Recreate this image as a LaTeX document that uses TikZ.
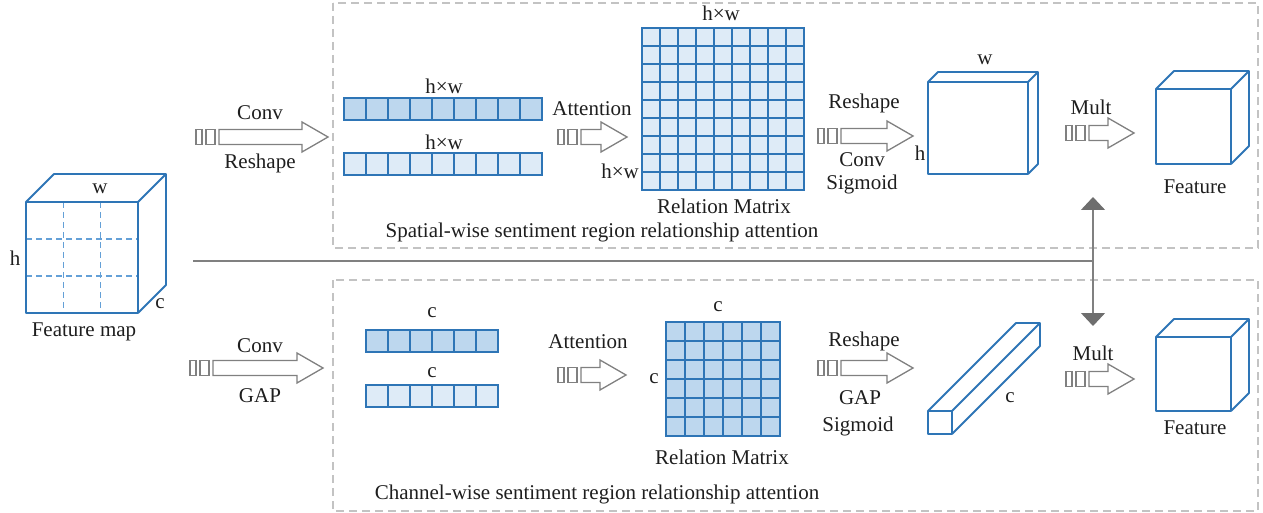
\documentclass[tikz,border=0pt]{standalone}
\usepackage{fontspec}
\setmainfont{Liberation Serif}
\usetikzlibrary{arrows.meta}

\definecolor{cubeblue}{RGB}{46,117,182}
\definecolor{gridblue}{RGB}{100,160,215}
\definecolor{celldark}{RGB}{189,215,238}
\definecolor{celllight}{RGB}{222,235,247}
\definecolor{framegray}{RGB}{195,195,195}
\definecolor{arrowgray}{RGB}{128,128,128}
\definecolor{headgray}{RGB}{110,110,110}
\definecolor{inkgray}{RGB}{30,30,30}

\tikzset{
  lbl/.style={font=\fontsize{21}{24}\selectfont, inner sep=0pt, text=inkgray},
  edgethree/.style={draw=cubeblue, line width=1.8pt, line join=round},
  cellgrid/.style={draw=cubeblue, line width=2pt},
  frame/.style={draw=framegray, line width=1.3pt, dash pattern=on 8pt off 5pt},
  hollow/.style={draw=arrowgray, line width=1.3pt, fill=white, line join=miter},
  bus/.style={draw=arrowgray, line width=1.4pt},
}

% hollow block arrow preceded by two small bars: left x, centre y, tip x
\newcommand\hollowarrow[3]{%
  \draw[hollow] (#1,#2-7.5) rectangle ++(6,15);
  \draw[hollow] (#1+10,#2-7.5) rectangle ++(9,15);
  \draw[hollow] (#1+23,#2-7.5) -- (#3-26,#2-7.5) -- (#3-26,#2-15) -- (#3,#2)
     -- (#3-26,#2+15) -- (#3-26,#2+7.5) -- (#1+23,#2+7.5) -- cycle;
}
% box in oblique view: front left x, top y, right x, bottom y, depth
\newcommand\obliquebox[5]{%
  \draw[edgethree] (#1,#2) rectangle (#3,#4);
  \draw[edgethree] (#1,#2) -- (#1+#5,#2-#5) -- (#3+#5,#2-#5) -- (#3+#5,#4-#5) -- (#3,#4);
  \draw[edgethree] (#3,#2) -- (#3+#5,#2-#5);
}
% row of cells: x0, y0, cell width, height, number of cells, fill
\newcommand\cellrow[6]{%
  \draw[cellgrid, fill=#6] (#1,#2) rectangle ++(#3*#5,#4);
  \foreach \k in {1,...,\numexpr#5-1\relax}
    \draw[cellgrid] ({#1+\k*#3},#2) -- ++(0,#4);
}
% square matrix of cells: x0, y0, cell size, number of cells, fill
\newcommand\cellmatrix[5]{%
  \draw[cellgrid, fill=#5] (#1,#2) rectangle ++(#3*#4,#3*#4);
  \foreach \k in {1,...,\numexpr#4-1\relax}{
    \draw[cellgrid] ({#1+\k*#3},#2) -- ++(0,#3*#4);
    \draw[cellgrid] (#1,{#2+\k*#3}) -- ++(#3*#4,0);
  }
}

\begin{document}
\begin{tikzpicture}[x=1pt, y=-1pt]
\useasboundingbox (0,0) rectangle (1263,513);

% dashed frames of the two branches
\draw[frame] (333,3) rectangle (1258,248);
\draw[frame] (333,280) rectangle (1258,511);

% input feature map
\draw[gridblue, line width=1.4pt, dash pattern=on 6pt off 4pt]
  (63.3,202) -- (63.3,313) (100.7,202) -- (100.7,313)
  (26,239) -- (138,239) (26,276) -- (138,276);
\obliquebox{26}{202}{138}{313}{28}
\node[lbl] (fw) at (100,189) {w};
\node[lbl] (fh) at (15,258) {h};
\node[lbl] (fc) at (160,304) {c};
\node[lbl] (fname) at (84,332) {Feature map};

% shared line and the two-way arrow to both Mult steps
\coordinate (busL) at (193,261);
\coordinate (busR) at (1093,261);
\coordinate (upTip) at (1093,197);
\coordinate (downTip) at (1093,326);
\draw[bus] (busL) -- (busR);
\draw[bus, {Triangle[width=24pt,length=13pt,fill=headgray,color=headgray]}-{Triangle[width=24pt,length=13pt,fill=headgray,color=headgray]}] (upTip) -- (downTip);

% ---------- spatial branch ----------
\hollowarrow{196}{137}{328}
\node[lbl] (convA) at (260,113) {Conv};
\node[lbl] (reshA) at (260,163) {Reshape};

\cellrow{344}{98}{22}{22}{9}{celldark}
\cellrow{344}{153}{22}{22}{9}{celllight}
\node[lbl] (hwA) at (444,86) {h×w};
\node[lbl] (hwB) at (444,142) {h×w};

\hollowarrow{558}{137}{627}
\node[lbl] (attA) at (592,109) {Attention};

\cellmatrix{642}{28}{18}{9}{celllight}
\node[lbl] (hwC) at (721,13) {h×w};
\node[lbl] (hwD) at (620,171) {h×w};
\node[lbl] (relA) at (724,206) {Relation Matrix};

\hollowarrow{818}{136}{913}
\node[lbl] (reshB) at (864,103) {Reshape};
\node[lbl] (convB) at (862,160) {Conv};
\node[lbl] (sigA) at (862,184) {Sigmoid};

\obliquebox{928}{82}{1028}{174}{10}
\node[lbl] (sw) at (985,60) {w};
\node[lbl] (sh) at (920,153) {h};

\hollowarrow{1066}{133}{1134}
\node[lbl] (multA) at (1091,107) {Mult};

\obliquebox{1156}{89}{1231}{164}{18}
\node[lbl] (featA) at (1195,187) {Feature};

\node[lbl] (capA) at (602,232) {Spatial-wise sentiment region relationship attention};

% ---------- channel branch ----------
\hollowarrow{190}{368}{323}
\node[lbl] (convC) at (260,346) {Conv};
\node[lbl] (gapA) at (260,396) {GAP};

\cellrow{366}{330}{22}{22}{6}{celldark}
\cellrow{366}{385}{22}{22}{6}{celllight}
\node[lbl] (cA) at (432,313) {c};
\node[lbl] (cB) at (432,373) {c};

\hollowarrow{558}{375}{626}
\node[lbl] (attB) at (588,342) {Attention};

\cellmatrix{666}{322}{19}{6}{celldark}
\node[lbl] (cC) at (718,307) {c};
\node[lbl] (cD) at (654,379) {c};
\node[lbl] (relB) at (722,457) {Relation Matrix};

\hollowarrow{818}{368}{913}
\node[lbl] (reshC) at (864,341) {Reshape};
\node[lbl] (gapB) at (860,398) {GAP};
\node[lbl] (sigB) at (858,426) {Sigmoid};

\obliquebox{928}{411}{952}{434}{88}
\node[lbl] (cE) at (1010,398) {c};

\hollowarrow{1066}{379}{1134}
\node[lbl] (multB) at (1093,353) {Mult};

\obliquebox{1156}{337}{1231}{411}{18}
\node[lbl] (featB) at (1195,428) {Feature};

\node[lbl] (capB) at (597,494) {Channel-wise sentiment region relationship attention};
\end{tikzpicture}
\end{document}
